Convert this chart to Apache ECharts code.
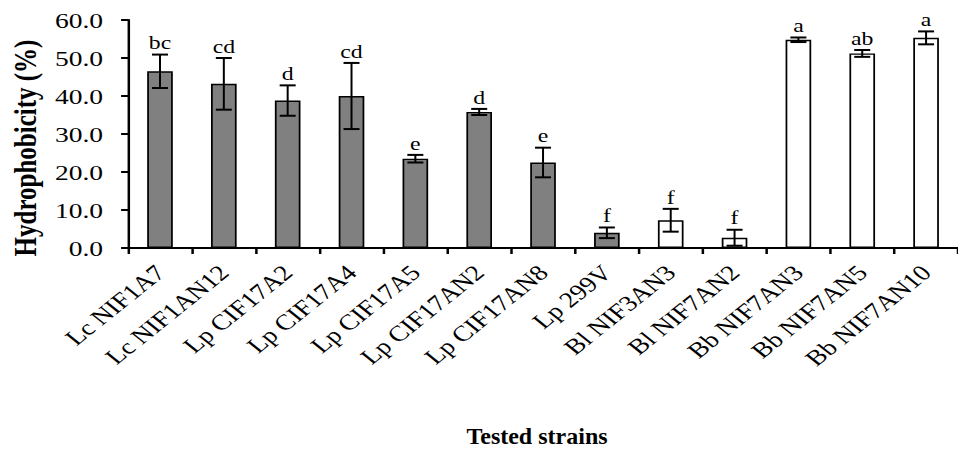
<!DOCTYPE html>
<html>
<head>
<meta charset="utf-8">
<script src="https://cdn.jsdelivr.net/npm/echarts@6/dist/echarts.min.js"></script>
<style>
  html, body { margin: 0; padding: 0; background: #fff; overflow: hidden; }
  #main { width: 766px; height: 453px; transform: scaleX(1.25065); transform-origin: 0 0; }
</style>
</head>
<body>
<div id="main"></div>
<script>
// ---- data ----
const categories = ['Lc NIF1A7', 'Lc NIF1AN12', 'Lp CIF17A2', 'Lp CIF17A4', 'Lp CIF17A5', 'Lp CIF17AN2', 'Lp CIF17AN8', 'Lp 299V', 'Bl NIF3AN3', 'Bl NIF7AN2', 'Bb NIF7AN3', 'Bb NIF7AN5', 'Bb NIF7AN10'];
const hydrophobicity = [46.5, 43.2, 38.8, 40.0, 23.5, 35.8, 22.5, 4.0, 7.3, 2.7, 54.8, 51.2, 55.3];
const errors = [4.4, 6.8, 4.0, 8.7, 1.0, 0.8, 3.9, 1.4, 3.0, 2.1, 0.6, 0.9, 1.7];
const letters = ['bc', 'cd', 'd', 'cd', 'e', 'd', 'e', 'f', 'f', 'f', 'a', 'ab', 'a'];
const lactobacilliGenera = ['Lc', 'Lp'];
const yTickLabels = ['0.0', '10.0', '20.0', '30.0', '40.0', '50.0', '60.0'];

// ---- chart ----
const SX = 1.25065; // horizontal stretch of the reference picture
const serif = "'Liberation Serif', serif";
const chart = echarts.init(document.getElementById('main'), null, { renderer: 'svg' });

const barData = hydrophobicity.map((v, i) => ({
  value: v,
  itemStyle: {
    color: lactobacilliGenera.includes(categories[i].split(' ')[0]) ? '#808080' : '#ffffff',
    borderColor: '#000',
    borderWidth: 1.4
  }
}));

function renderErr(params, api) {
  const i = api.value(0), m = api.value(1), e = api.value(2);
  const top = api.coord([i, m + e]);
  const bot = api.coord([i, m - e]);
  const hw = 6.4;
  return {
    type: 'group',
    children: [
      { type: 'line', shape: { x1: top[0], y1: top[1], x2: bot[0], y2: bot[1] }, style: { stroke: '#000', lineWidth: 1.6 } },
      { type: 'line', shape: { x1: top[0] - hw, y1: top[1], x2: top[0] + hw, y2: top[1] }, style: { stroke: '#000', lineWidth: 2 } },
      { type: 'line', shape: { x1: bot[0] - hw, y1: bot[1], x2: bot[0] + hw, y2: bot[1] }, style: { stroke: '#000', lineWidth: 2 } },
      { type: 'text', x: top[0], y: top[1] - 2,
        style: { text: letters[i], textAlign: 'center', textVerticalAlign: 'bottom', font: '19px ' + serif, fill: '#000' } }
    ]
  };
}

chart.setOption({
  animation: false,
  backgroundColor: '#fff',
  textStyle: { fontFamily: 'Liberation Serif' },
  grid: { left: 124 / SX, right: 766 - 963 / SX, top: 20, bottom: 453 - 248, containLabel: false },
  xAxis: {
    type: 'category',
    data: categories,
    axisLine: { lineStyle: { color: '#000', width: 2 } },
    axisTick: { show: true, length: 6, lineStyle: { color: '#000', width: 2 } },
    axisLabel: { interval: 0, rotate: 45, margin: 21, padding: [15, 0, 0, 0], color: '#000', fontFamily: 'Liberation Serif', fontSize: 22 },
    splitLine: { show: false }
  },
  yAxis: {
    type: 'value',
    min: 0, max: 60, interval: 10,
    name: 'Hydrophobicity (%)',
    nameLocation: 'middle',
    nameGap: 66,
    nameTextStyle: { color: '#000', fontFamily: 'Liberation Serif', fontSize: 25, fontWeight: 'bold', padding: [0, 28, 0, 0] },
    axisLine: { show: true, lineStyle: { color: '#000', width: 2 } },
    axisTick: { show: true, length: 5.6, lineStyle: { color: '#000', width: 2 } },
    axisLabel: { margin: 20, color: '#000', fontFamily: 'Liberation Serif', fontSize: 22,
      formatter: (v) => yTickLabels[Math.round(v / 10)] },
    splitLine: { show: false }
  },
  graphic: [{
    type: 'text',
    x: 537 / SX, y: 436,
    scaleX: 1 / SX,
    style: { text: 'Tested strains', textAlign: 'center', textVerticalAlign: 'middle',
      font: "bold 24px 'Liberation Serif'", fill: '#000' }
  }],
  series: [
    { type: 'bar', data: barData, barWidth: 20.5, z: 2 },
    { type: 'custom', renderItem: renderErr, z: 3,
      data: categories.map((c, i) => [i, hydrophobicity[i], errors[i]]),
      encode: { x: 0, y: 1 } }
  ]
});
</script>
</body>
</html>
